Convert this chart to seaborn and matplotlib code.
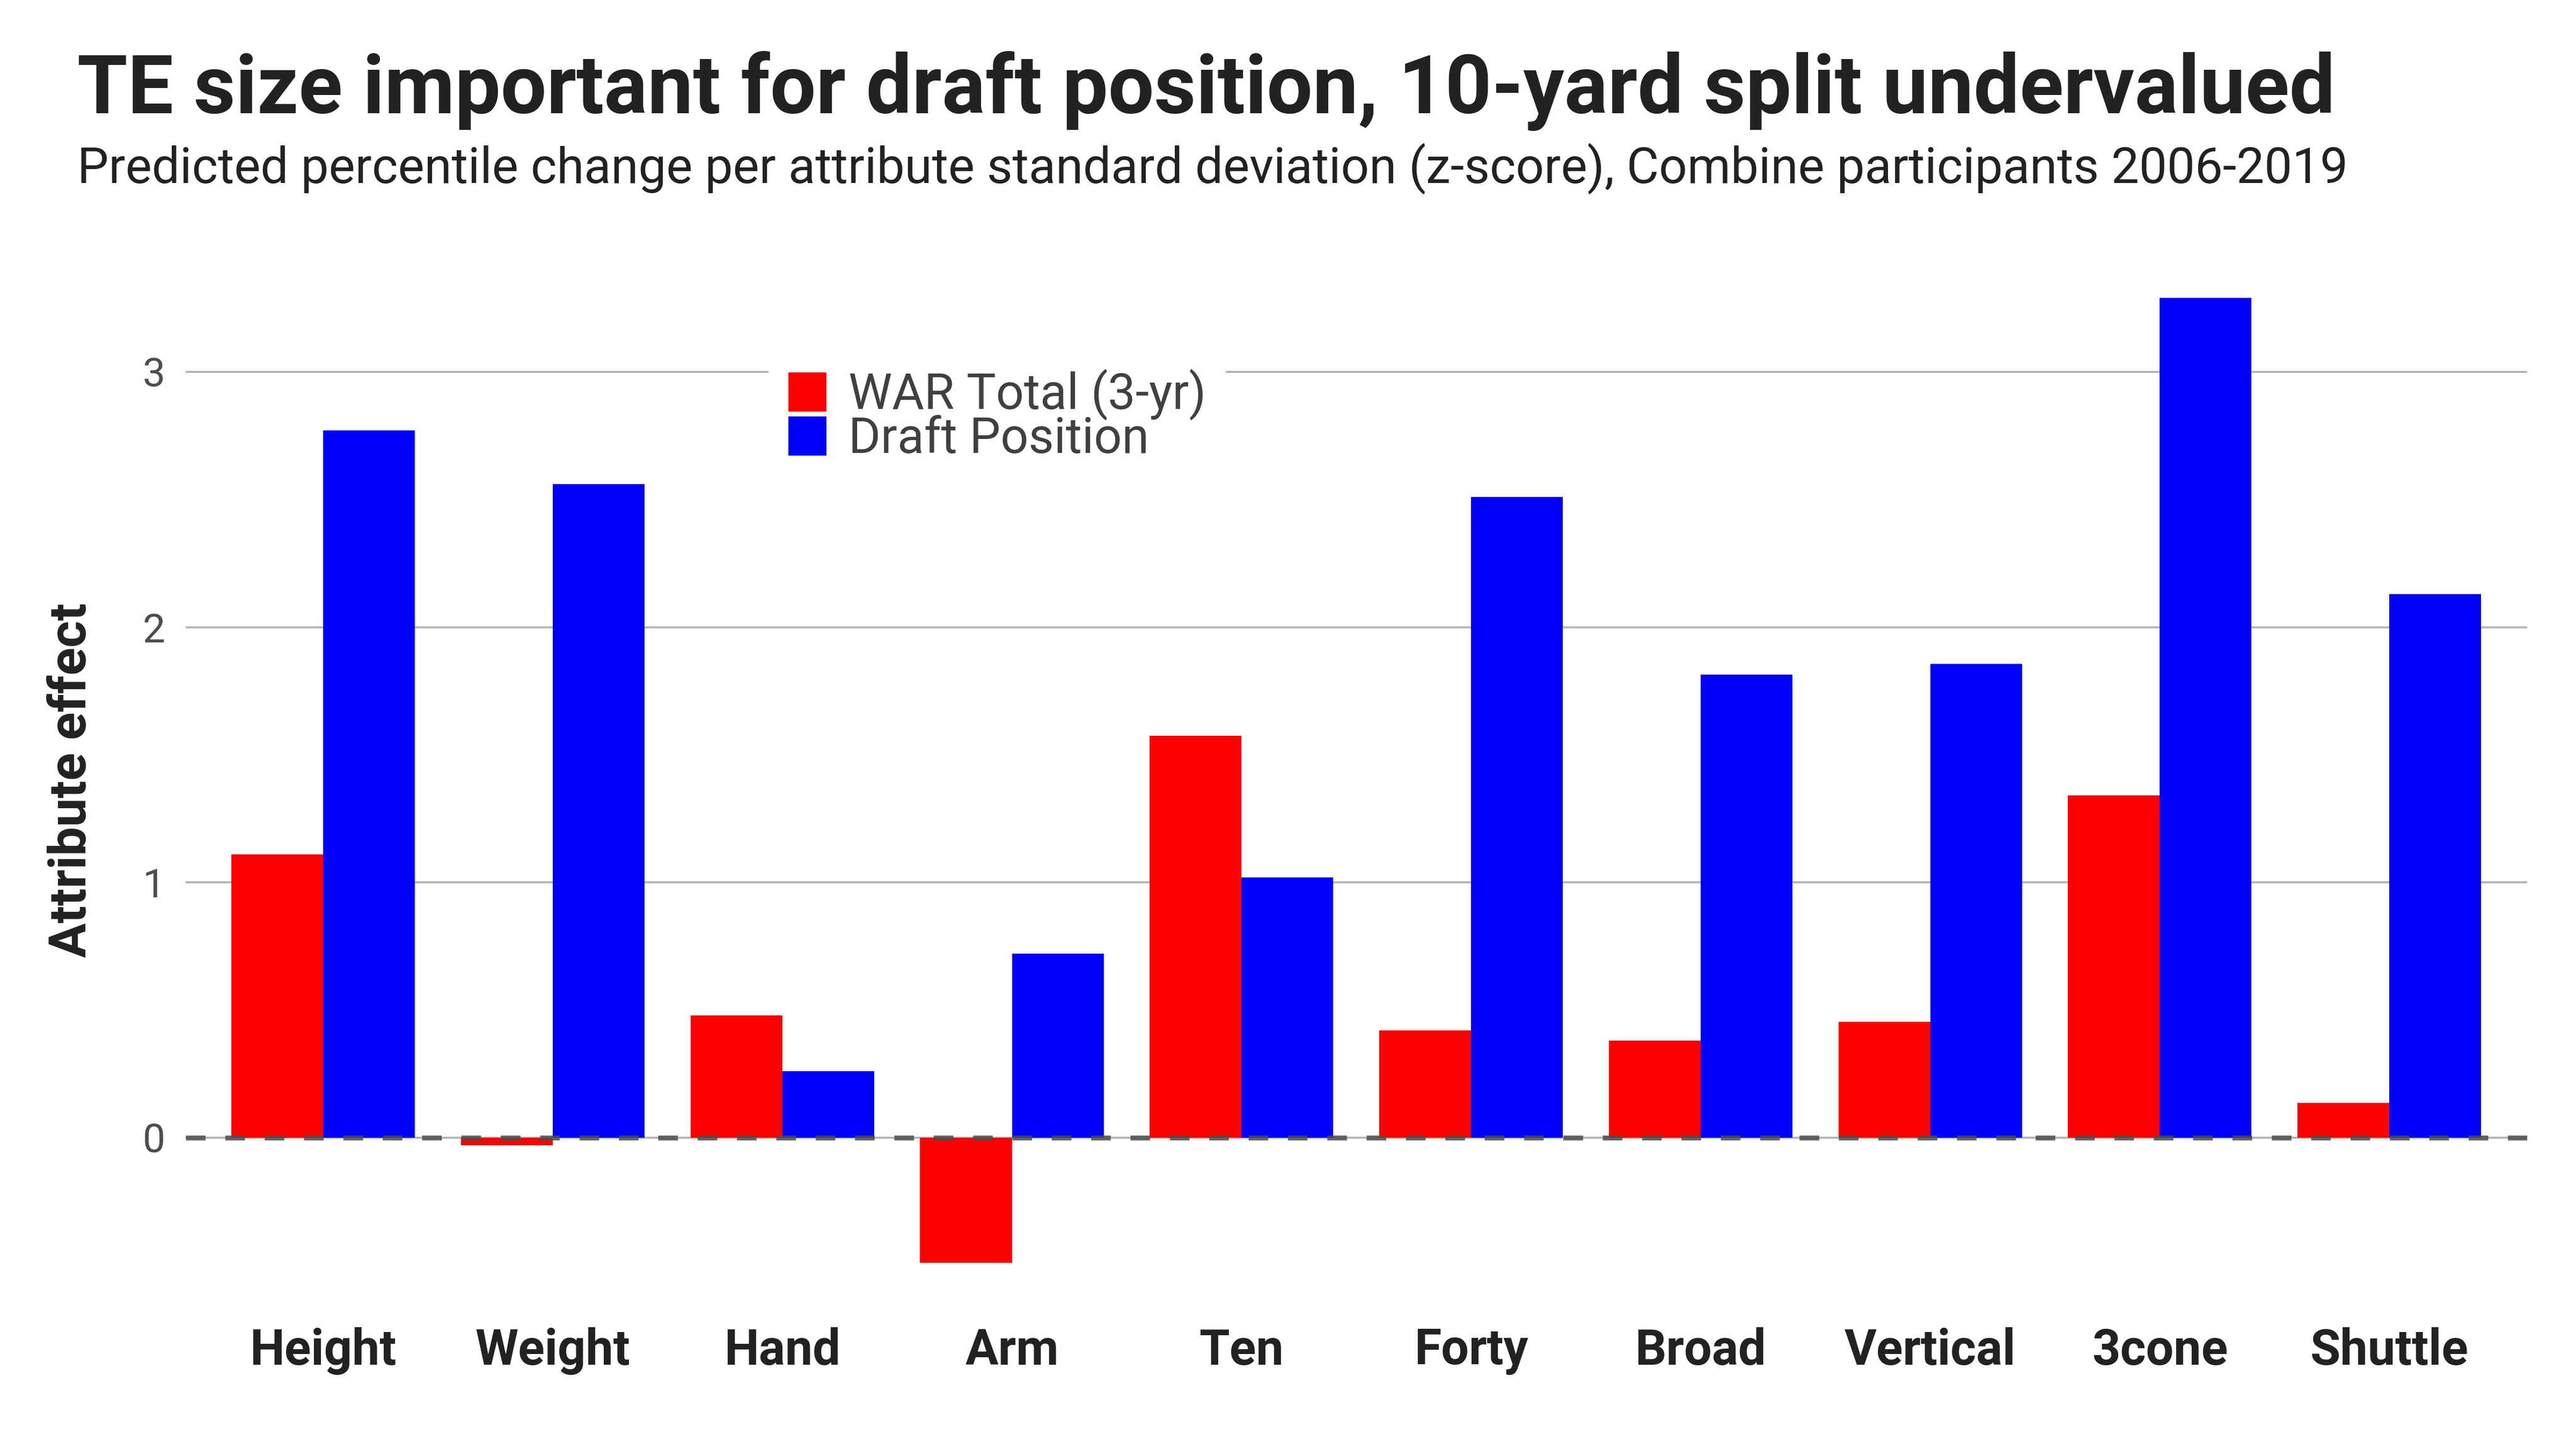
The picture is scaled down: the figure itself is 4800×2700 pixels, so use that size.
import pandas as pd
import matplotlib.pyplot as plt
import seaborn as sns

# attribute effects
attributes = ['Height', 'Weight', 'Hand', 'Arm', 'Ten', 'Forty', 'Broad', 'Vertical', '3cone', 'Shuttle']
war_total = [1.11, -0.03, 0.48, -0.49, 1.575, 0.42, 0.38, 0.455, 1.34, 0.137]
draft_pos = [2.77, 2.56, 0.26, 0.72, 1.02, 2.51, 1.815, 1.855, 3.29, 2.13]
series = ['WAR Total (3-yr)', 'Draft Position']

df = pd.DataFrame({
    'attribute': attributes * 2,
    'effect': war_total + draft_pos,
    'series': [series[0]] * len(attributes) + [series[1]] * len(attributes),
})

sns.set_theme(style='white')
plt.rcParams['font.family'] = ['Roboto', 'DejaVu Sans']

fig = plt.figure(figsize=(16, 9), dpi=300)
ax = fig.add_axes([0.072, 0.095, 0.909, 0.733])

# grid first so the legend box can cover it
for y in [0, 1, 2, 3]:
    ax.axhline(y, color='#b3b3b3', lw=0.9, zorder=0)

sns.barplot(data=df, x='attribute', y='effect', hue='series', order=attributes,
            hue_order=series, palette=['#fe0000', '#0000fe'], saturation=1,
            width=0.8, linewidth=0, ax=ax, zorder=2)

ax.axhline(0, color='#4d4d4d', lw=2.2, ls=(0, (4, 4)), alpha=0.85, zorder=3)

ax.set_xlim(-0.6, 9.6)
ax.set_ylim(-0.68, 3.48)
ax.set_yticks([0, 1, 2, 3])
ax.set_xlabel('')
ax.set_ylabel('Attribute effect', fontsize=23, fontweight='bold', color='#222222')
ax.yaxis.set_label_coords(-0.038, 0.5)
ax.tick_params(axis='y', length=0, pad=9, labelsize=18, labelcolor='#4d4d4d')
ax.tick_params(axis='x', length=0, pad=7, labelsize=22, labelcolor='#222222')
for lab in ax.get_xticklabels():
    lab.set_fontweight('bold')
sns.despine(ax=ax, left=True, bottom=True)

leg = ax.legend(loc='center left', bbox_to_anchor=(0.249, 0.843), borderaxespad=0,
                fontsize=22, frameon=True, facecolor='white', edgecolor='none',
                framealpha=1, fancybox=False, borderpad=0.4, handlelength=0.78,
                handleheight=0.85, handletextpad=0.45, labelspacing=-0.1)
leg.set_zorder(5)
for t in leg.get_texts():
    t.set_color('#404040')

fig.text(0.030, 0.922, 'TE size important for draft position, 10-yard split undervalued',
         fontsize=36.4, fontweight='bold', color='#222222', ha='left', va='baseline')
fig.text(0.030, 0.874, 'Predicted percentile change per attribute standard deviation (z-score), '
         'Combine participants 2006-2019', fontsize=22.2, color='#222222', ha='left', va='baseline')

fig.savefig('out.png', dpi=300, facecolor='white')
